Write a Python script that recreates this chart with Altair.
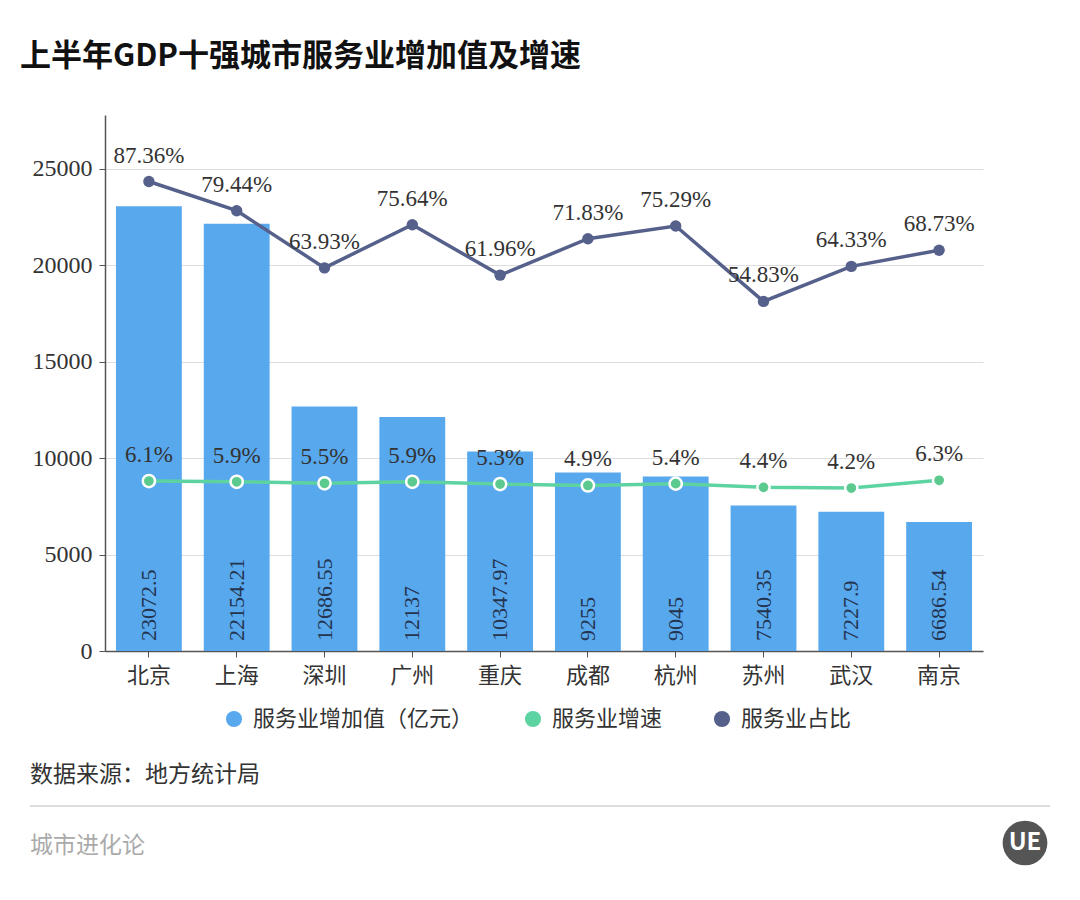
import altair as alt
import pandas as pd

cities = ["北京", "上海", "深圳", "广州", "重庆", "成都", "杭州", "苏州", "武汉", "南京"]
value_added = [23072.5, 22154.21, 12686.55, 12137, 10347.97, 9255, 9045, 7540.35, 7227.9, 6686.54]
growth = [6.1, 5.9, 5.5, 5.9, 5.3, 4.9, 5.4, 4.4, 4.2, 6.3]
share = [87.36, 79.44, 63.93, 75.64, 61.96, 71.83, 75.29, 54.83, 64.33, 68.73]
series_names = ["服务业增加值（亿元）", "服务业增速", "服务业占比"]
left_ticks = [0, 5000, 10000, 15000, 20000, 25000]
right_ticks = [-40, -20, 0, 20, 40, 60, 80, 100]

title_text = "上半年GDP十强城市服务业增加值及增速"
source_text = "数据来源：地方统计局"
brand_text = "城市进化论"

BLUE = "#58A8EE"
GREEN = "#5ED3A2"
DARK = "#55608B"
SERIF = "Liberation Serif"
SANS = "Noto Sans CJK SC"

def fmt(v):
    return ("%.2f" % v).rstrip("0").rstrip(".")

df = pd.DataFrame({
    "city": cities,
    "value": value_added,
    "value_label": [fmt(v) for v in value_added],
    "growth": growth,
    "growth_label": [f"{v:.1f}%" for v in growth],
    "share": share,
    "share_label": [f"{v:.2f}%" for v in share],
    "series": series_names[0],
})

W, H = 878, 536

x = alt.X("city:N", sort=cities,
          scale=alt.Scale(paddingInner=0.25, paddingOuter=0.125),
          axis=alt.Axis(title=None, labelAngle=0, labelFont=SANS, labelFontSize=22,
                        labelColor="#333", labelPadding=8, tickSize=6, tickColor="#555",
                        domainColor="#555", domainWidth=1.5, grid=False))

left_scale = alt.Scale(domain=[0, 27800], nice=False, zero=False)
right_scale = alt.Scale(domain=[-40, 105.4], nice=False, zero=False)

base = alt.Chart(df)

bars = base.mark_bar().encode(
    x=x,
    y=alt.Y("value:Q", scale=left_scale,
            axis=alt.Axis(title=None, values=left_ticks, format="d", orient="left",
                          labelFont=SERIF, labelFontSize=24, labelColor="#333", tickSize=6,
                          tickColor="#555", domainColor="#555", domainWidth=1.5, grid=True,
                          gridColor="#dddddd", gridWidth=1.2, labelPadding=7)),
    color=alt.Color("series:N", scale=alt.Scale(domain=series_names, range=[BLUE, GREEN, DARK]),
                    legend=alt.Legend(title=None, orient="none", direction="horizontal",
                                      legendX=118, legendY=593, symbolType="circle",
                                      symbolSize=260, symbolStrokeWidth=0, labelLimit=0,
                                      labelFont=SANS, labelFontSize=22, labelColor="#333",
                                      columnPadding=48, labelOffset=8)),
)

bar_text = base.mark_text(angle=270, align="left", baseline="middle", dx=10,
                          font=SERIF, fontSize=22, color="#24344f").encode(
    x=x,
    y=alt.Y(datum=0, scale=left_scale),
    text="value_label:N",
)

left_layer = alt.layer(bars, bar_text)

share_line = base.mark_line(strokeWidth=3.5, color=DARK).encode(
    x=x,
    y=alt.Y("share:Q", scale=right_scale,
            axis=alt.Axis(title=None, values=right_ticks, orient="right", labelFont=SERIF,
                          labelFontSize=23, labelColor="#333", tickSize=6, tickColor="#555",
                          domainColor="#555", domainWidth=1.5, grid=False, labelPadding=7)),
)
share_pts = base.mark_circle(size=130, opacity=1, color=DARK).encode(
    x=x, y=alt.Y("share:Q", scale=right_scale, axis=None))
share_text = base.mark_text(dy=-26, font=SERIF, fontSize=23, color="#333").encode(
    x=x, y=alt.Y("share:Q", scale=right_scale, axis=None), text="share_label:N")

growth_line = base.mark_line(strokeWidth=3.5, color=GREEN).encode(
    x=x, y=alt.Y("growth:Q", scale=right_scale, axis=None))
growth_pts = base.mark_point(size=150, filled=True, opacity=1, fill="#5CC98F",
                             stroke="white", strokeWidth=2.5).encode(
    x=x, y=alt.Y("growth:Q", scale=right_scale, axis=None))
growth_text = base.mark_text(dy=-26, font=SERIF, fontSize=23, color="#333").encode(
    x=x, y=alt.Y("growth:Q", scale=right_scale, axis=None), text="growth_label:N")

right_layer = alt.layer(share_line, share_pts, share_text, growth_line, growth_pts, growth_text)

one = pd.DataFrame({"title": [title_text], "source": [source_text], "brand": [brand_text], "logo": ["UE"]})
deco = alt.Chart(one)
title_mark = deco.mark_text(align="left", baseline="middle", font=SANS, fontSize=31,
                            fontWeight="bold", color="#111").encode(
    x=alt.value(-85), y=alt.value(-58), text="title:N")
source_mark = deco.mark_text(align="left", baseline="middle", font=SANS, fontSize=23,
                             color="#333").encode(
    x=alt.value(-75), y=alt.value(660), text="source:N")
sep_rule = deco.mark_rule(color="#dddddd", strokeWidth=2).encode(
    x=alt.value(-75), x2=alt.value(945), y=alt.value(691))
brand_mark = deco.mark_text(align="left", baseline="middle", font=SANS, fontSize=23,
                            color="#aaaaaa").encode(
    x=alt.value(-75), y=alt.value(731), text="brand:N")
logo_circle = deco.mark_circle(size=2000, color="#555555", opacity=1).encode(
    x=alt.value(920), y=alt.value(728))
logo_text = deco.mark_text(align="center", baseline="middle", font=SANS, fontSize=24,
                           fontWeight="bold", color="white").encode(
    x=alt.value(920), y=alt.value(728), text="logo:N")

deco_layer = alt.layer(title_mark, source_mark, sep_rule, brand_mark, logo_circle, logo_text)

chart = alt.layer(left_layer, right_layer, deco_layer).resolve_scale(
    y="independent"
).properties(
    width=W, height=H,
    autosize=alt.AutoSizeParams(type="none"),
    padding={"left": 97, "top": 107, "right": 89, "bottom": 228},
    background="white",
).configure_view(stroke=None)

chart.save("out.html", embed_options={"renderer": "svg", "actions": False})
